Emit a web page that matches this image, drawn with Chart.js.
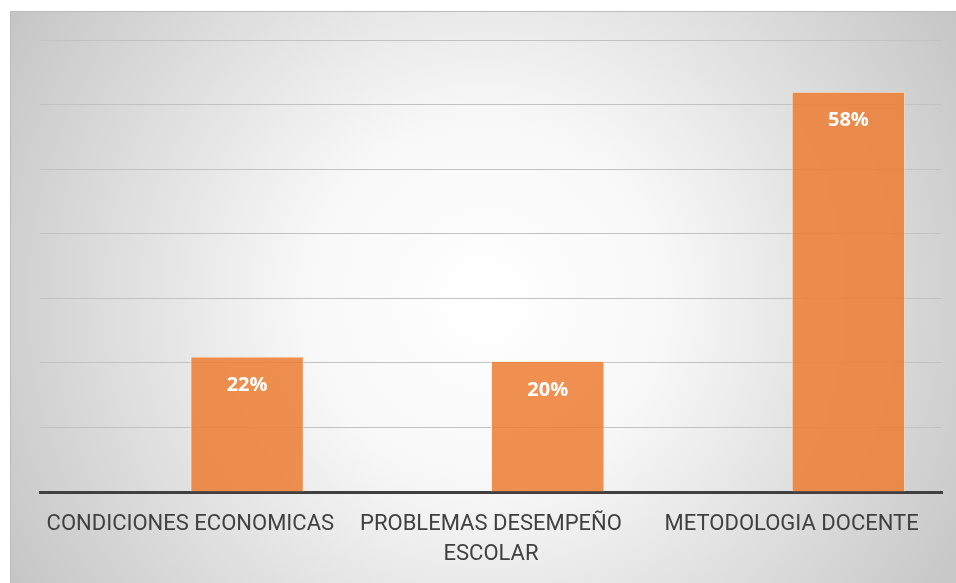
<!DOCTYPE html>
<html>
<head>
<meta charset="utf-8">
<script src="https://cdn.jsdelivr.net/npm/chart.js@4"></script>
<style>
  html, body { margin: 0; padding: 0; background: #fff; overflow: hidden; }
  #wrap { width: 956px; height: 583px; position: relative; overflow: hidden; }
  canvas { display: block; }
</style>
</head>
<body>
<div id="wrap"><canvas id="causasChart" width="956" height="586"></canvas></div>
<script>
// categories and values
const categories = ['CONDICIONES ECONOMICAS', ['PROBLEMAS DESEMPEÑO', 'ESCOLAR'], 'METODOLOGIA DOCENTE'];
const emptySeries = [null, null, null];          // Excel's blank first series, keeps bars to the right
const barValues = [21, 20.3, 62];                // bar heights as drawn
const barLabels = ['22%', '20%', '58%'];         // labels printed on the bars
const yTicks = [0, 10, 20, 30, 40, 50, 60, 70];

// gradient panel behind the chart
const panelBg = {
  id: 'panelBg',
  beforeDraw(chart) {
    const ctx = chart.ctx;
    ctx.save();
    const g = ctx.createRadialGradient(485, 300, 0, 485, 300, 600);
    g.addColorStop(0, '#ffffff');
    g.addColorStop(0.3, '#f8f8f8');
    g.addColorStop(1, '#bfbfbf');
    ctx.fillStyle = g;
    ctx.fillRect(10, 11, 946, 575);
    ctx.strokeStyle = '#bcbcbc';
    ctx.lineWidth = 1;
    ctx.beginPath();
    ctx.moveTo(10.5, 586);
    ctx.lineTo(10.5, 11.5);
    ctx.lineTo(956, 11.5);
    ctx.stroke();
    ctx.restore();
  }
};

// white percentage labels inside the bars
const barText = {
  id: 'barText',
  afterDatasetsDraw(chart) {
    const ctx = chart.ctx;
    const meta = chart.getDatasetMeta(1);
    ctx.save();
    ctx.fillStyle = '#ffffff';
    ctx.font = 'bold 20px "Open Sans", sans-serif';
    ctx.textAlign = 'center';
    ctx.textBaseline = 'middle';
    meta.data.forEach((bar, i) => {
      ctx.fillText(barLabels[i], bar.x, bar.y + 29);
    });
    ctx.restore();
  }
};

const ctx = document.getElementById('causasChart').getContext('2d');
const causasChart = new Chart(ctx, {
  type: 'bar',
  data: {
    labels: categories,
    datasets: [{
      label: 'Serie 1',
      data: emptySeries,
      backgroundColor: 'rgba(0,0,0,0)'
    }, {
      label: 'Serie 2',
      data: barValues,
      backgroundColor: 'rgba(237,125,49,0.85)',
      borderColor: 'rgba(255,235,220,0.8)',
      borderWidth: 1,
      borderSkipped: 'bottom'
    }]
  },
  options: {
    responsive: false,
    animation: false,
    categoryPercentage: 0.755,
    barPercentage: 1,
    layout: { padding: { left: 40, top: 40, right: 14, bottom: 0 } },
    plugins: {
      legend: { display: false },
      tooltip: { enabled: false }
    },
    scales: {
      x: {
        grid: { display: false, drawTicks: false },
        border: { display: true, color: '#404040', width: 3 },
        ticks: {
          color: '#404040',
          padding: 17,
          maxRotation: 0,
          autoSkip: false,
          font: { family: 'Roboto, sans-serif', size: 22, lineHeight: 30 / 22 }
        }
      },
      y: {
        min: 0,
        max: 70,
        afterBuildTicks: (scale) => { scale.ticks = yTicks.map(v => ({ value: v })); },
        grid: { color: '#c2c2c2', lineWidth: 1, drawTicks: false },
        border: { display: false },
        ticks: { display: false }
      }
    }
  },
  plugins: [panelBg, barText]
});
</script>
</body>
</html>
